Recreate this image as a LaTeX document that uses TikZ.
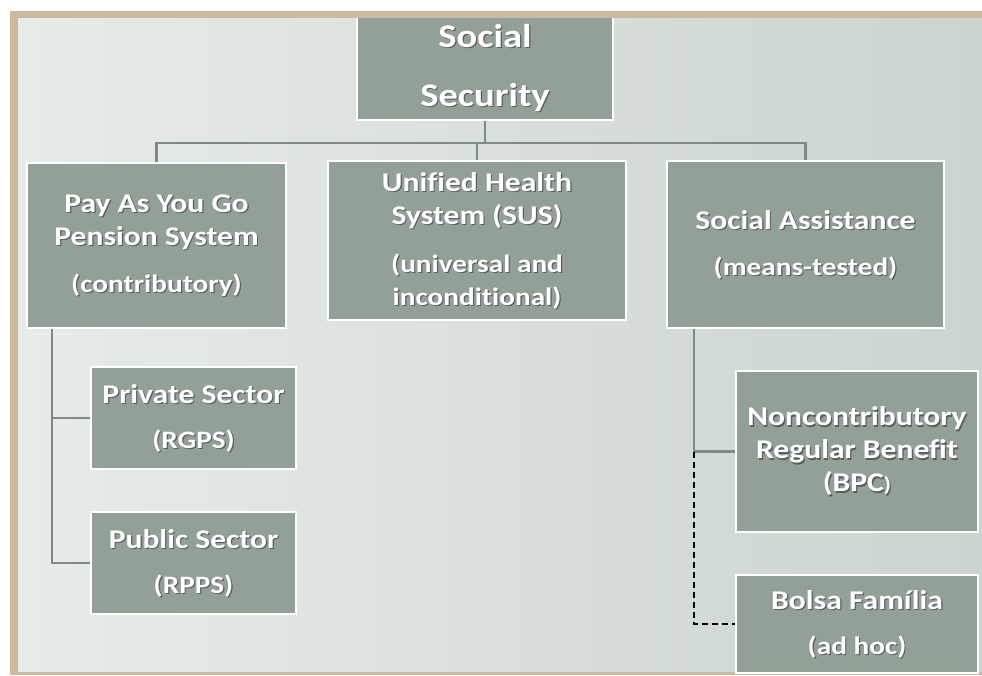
\documentclass[tikz,border=0pt]{standalone}
\usepackage{fontspec}
\setmainfont{Carlito}[FakeStretch=1.17,Ligatures=NoCommon]
\usetikzlibrary{backgrounds}
\definecolor{boxc}{HTML}{93A097}
\definecolor{linec}{HTML}{7E8B84}
\definecolor{panelL}{HTML}{E7EBE9}
\definecolor{panelR}{HTML}{CBD4CF}
\definecolor{tan}{HTML}{CDB8A2}
\tikzset{
  box/.style={draw=white, line width=2pt, fill=boxc, inner sep=0pt},
  boxtext/.style={text=white, align=center, inner sep=0pt,
    font=\bfseries\fontsize{27}{33}\selectfont},
  shadowtext/.style={boxtext, text=black, text opacity=0.4},
  conn/.style={draw=linec, line width=2.5pt},
  dconn/.style={draw=black, line width=2.8pt, dashed, dash pattern=on 6pt off 4pt}
}
\newcommand{\sm}{\fontsize{25}{30}\selectfont}
% #1 name, #2 width, #3 height, #4 position, #5 text, #6 font
\newcommand{\bx}[6]{%
  \node[box, minimum width=#2, minimum height=#3] (#1) at (#4) {};
  \node[shadowtext,#6] (#1S) at ([xshift=1.2pt,yshift=-1.2pt]#1.center) {#5};
  \node[boxtext,#6] (#1T) at (#1.center) {#5};}
\begin{document}
\begin{tikzpicture}[x=1pt,y=-1pt]
\useasboundingbox (0,0) rectangle (982,675);

\bx{root}{256pt}{104pt}{485,68}{Social\\Security}{font=\bfseries\fontsize{33}{59}\selectfont}
\bx{pay}{259pt}{165pt}{156.5,245.5}{Pay As You Go\\Pension System\\[14pt]{\sm(contributory)}}{}
\bx{sus}{298pt}{159pt}{477,240.5}{Unified Health\\System (SUS)\\[15pt]{\sm(universal and}\\{\sm inconditional)}}{}
\bx{sa}{277pt}{167pt}{805.5,244.5}{Social Assistance\\[13pt]{\sm(means-tested)}}{}
\bx{priv}{205pt}{102pt}{193.5,418}{Private Sector\\[12pt]{\sm(RGPS)}}{}
\bx{pub}{205pt}{102pt}{193.5,563}{Public Sector\\[12pt]{\sm(RPPS)}}{}
\bx{bpc}{242pt}{161pt}{857,451.5}{Noncontributory\\Regular Benefit\\(BPC{\fontsize{20}{30}\selectfont)}}{}
\bx{bolsa}{242pt}{98pt}{857,624}{Bolsa Família\\[12pt]{\sm(ad hoc)}}{}

\fill[tan] (10,11) rectangle (982,18);

\begin{scope}[on background layer]
\fill[white] (0,0) rectangle (982,675);
\fill[tan] (10,11) rectangle (982,675);
\shade[left color=panelL, right color=panelR] (18,18) rectangle (982,671);
\draw[conn] (root.south) -- ++(0,22) coordinate (bus);
\draw[conn] (pay.north) |- (bus) -| (sa.north);
\draw[conn] (sus.north) -- (sus.north |- bus);
\coordinate (lv) at ([xshift=26pt]pay.south west);
\draw[conn] (lv) |- (pub.west);
\draw[conn] (lv |- priv.west) -- (priv.west);
\coordinate (rv) at ([xshift=28pt]sa.south west);
\draw[conn] (rv) |- (bpc.west);
\draw[dconn] (rv |- bpc.west) |- (bolsa.west);
\end{scope}
\end{tikzpicture}
\end{document}
